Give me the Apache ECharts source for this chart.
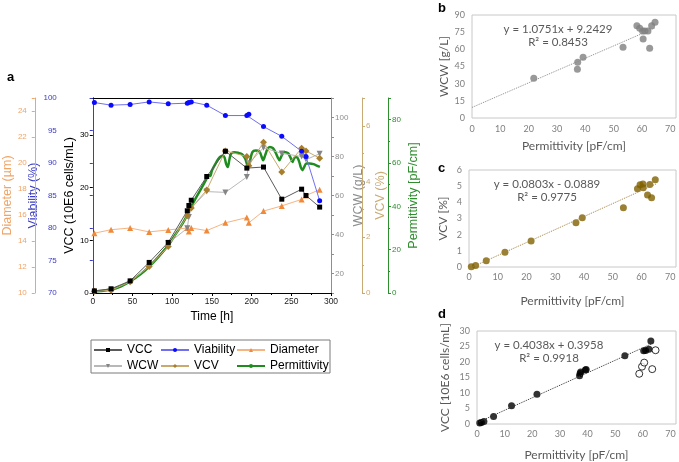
<!DOCTYPE html>
<html>
<head>
<meta charset="utf-8">
<script src="https://cdn.jsdelivr.net/npm/echarts@6/dist/echarts.min.js"></script>
<style>
  html, body { margin: 0; padding: 0; background: #fff; }
  #chart { width: 679px; height: 462px; }
</style>
</head>
<body>
<div id="chart"></div>
<script>
// panel a: sampling times [h]
const timeH = [2, 23, 47, 71, 95, 119, 121, 124, 143.5, 167, 194, 196.5, 215, 238, 263, 268.5, 285.7]
const vcc = [0.4, 0.8, 2.3, 5.8, 9.6, 15.6, 16.6, 17.6, 22.1, 26.9, 23.7, null, 23.9, 17.8, 19.7, 18.5, 16.3]
const viability = [99.3, 98.9, 99.0, 99.4, 99.1, 99.2, 99.3, 99.4, 98.9, 97.3, 97.3, 97.5, 95.6, 94.1, 91.8, 91.0, 84.2]
const diameter = [14.6, 14.87, 15.0, 14.7, 14.85, 15.0, 14.74, 15.0, 14.8, 15.4, 15.8, 15.4, 16.3, 16.7, 17.2, 17.5, 17.95]
const wcw = [null, null, null, null, 35.5, 43.2, 49, 53.5, 62, 61.6, 69.5, 76.5, 84.5, 81.6, 80, 78.4, 81.4]
const vcv = [0.06, 0.1, 0.4, 0.95, 1.67, 2.77, null, 3.05, 3.7, 5.1, 4.9, 4.57, 5.41, 4.34, 5.2, 5.1, 4.84]
// online permittivity trace [h, pF/cm]
const permTrace = [
  [0, 0.5], [10, 0.9], [23, 1.6], [35, 3], [47, 5.3], [60, 8.6], [71, 12.2], [83, 16.8],
  [95, 22], [105, 27.5], [113, 32], [119, 36], [124, 39.8], [130, 44], [137, 48.5], [143, 52.5],
  [146, 54.5], [148, 54], [150, 56.5], [155, 60], [158, 61.8], [161, 63], [164, 63.3], [166, 62.5],
  [168, 59.5], [170, 58.2], [172, 61.5], [174, 64.2], [178, 65], [183, 64.7], [188, 64], [192, 62],
  [194.5, 59], [196, 58.2], [198, 61], [201, 65], [205, 65.8], [210, 65.3], [212.5, 63], [214.5, 61.3],
  [217, 63.5], [220, 66.5], [223, 67.4], [227, 66.8], [230, 65], [233, 62.5], [235, 61.3], [238, 63.5],
  [241, 65.1], [246, 64.5], [249, 62.5], [251.5, 60.5], [254, 62.5], [257, 62.7], [260, 60.5], [262, 58],
  [264, 56.7], [266, 58], [269, 59.8], [273, 59.8], [278, 59.5], [282, 58.8], [286, 58.2]
]

// panel b: WCW vs permittivity
const wcwPoints = [[21.8, 34.8], [37.2, 42.5], [37.3, 48.8], [39.2, 53.1], [53.3, 61.8], [58.2, 80.7],
  [59.2, 78.4], [60.2, 76], [60.4, 69.1], [61, 76], [62.1, 76], [62.7, 61], [63.4, 80.7], [64.6, 83.6]]
const wcwTrend = [[0, 9.24], [64.5, 78.6]]
const wcwFit = ['y = 1.0751x + 9.2429', 'R² = 0.8453']

// panel c: VCV vs permittivity
const vcvPoints = [[0.8, 0.02], [2.3, 0.1], [6, 0.39], [12.5, 0.92], [21.6, 1.61], [37.2, 2.73], [39.4, 3.04],
  [53.7, 3.67], [58.6, 4.84], [59.5, 5.08], [60.5, 5.14], [60.6, 4.9], [62.1, 4.46], [62.9, 5.1],
  [63.5, 4.29], [64.8, 5.4]]
const vcvTrend = [[0, -0.09], [65, 5.13]]
const vcvFit = ['y = 0.0803x - 0.0889', 'R² = 0.9775']

// panel d: VCC vs permittivity (open = not used in fit)
const vccPoints = [[1, 0.3], [1.6, 0.5], [2.5, 0.8], [6, 2.4], [12.5, 5.9], [21.7, 9.6], [37.1, 15.6],
  [37.3, 16.3], [37.5, 16.8], [39.2, 17.4], [39.5, 17.6], [53.5, 22], [60.3, 23.6], [61, 23.7],
  [62.2, 24.1], [62.9, 26.8]]
const vccOpen = [[58.7, 16.2], [59.7, 18.5], [60.5, 19.8], [63.4, 17.7], [64.6, 23.8]]
const vccTrend = [[0, 0.4], [63.5, 26]]
const vccFit = ['y = 0.4038x + 0.3958', 'R² = 0.9918']

const pair = (xs, ys) => xs.map((x, i) => [x, ys[i]])

const chart = echarts.init(document.getElementById('chart'))

const AF = 'Liberation Sans, Arial, sans-serif'
const CF = 'Lato, Carlito, Calibri, sans-serif'
const C = {
  vcc: '#000000', vccLine: '#5a5a5a',
  via: '#0a0aff', viaLine: '#6f6ff0', viaAxis: '#3b3bc4',
  dia: '#f08a3a', diaLine: '#f6b482', diaAxis: '#f0a466',
  wcw: '#858585', wcwLine: '#b8b8b8', wcwAxis: '#8e8e8e',
  vcv: '#a87e2c', vcvLine: '#c9a96e', vcvAxis: '#c8aa74',
  perm: '#1f8c1f', permAxis: '#2d8f2d',
}

// helper for the stacked y axes of panel a
function sideAxis (o) {
  return {
    type: 'value', gridIndex: 0, position: o.pos, offset: o.offset,
    min: o.min, max: o.max, interval: o.interval,
    name: o.name, nameLocation: 'middle', nameRotate: 90, nameGap: o.nameGap,
    nameTextStyle: { color: o.color, fontFamily: AF, fontSize: 12.5 },
    axisLine: { show: true, lineStyle: { color: o.color, width: 1 } },
    axisTick: { show: true, inside: false, length: 3, lineStyle: { color: o.color } },
    minorTick: { show: !!o.minor, splitNumber: o.minor || 2, length: 2, lineStyle: { color: o.color } },
    axisLabel: {
      color: o.color, fontFamily: AF, fontSize: 8, margin: o.margin || 4,
      formatter: (v) => (o.labels.indexOf(v) >= 0 ? String(v) : ''),
    },
    splitLine: { show: false },
  }
}

function scatterGrid (g, o) {
  return {
    x: {
      type: 'value', gridIndex: g, min: 0, max: 72, interval: 10,
      name: 'Permittivity [pF/cm]', nameLocation: 'middle', nameGap: o.xGap,
      nameTextStyle: { color: '#595959', fontFamily: CF, fontSize: 12 },
      axisLine: { show: false }, axisTick: { show: false }, splitLine: { show: false },
      axisLabel: {
        color: '#7f7f7f', fontFamily: CF, fontSize: 9, margin: o.xMargin,
        formatter: (v) => (v <= 70 ? String(v) : ''),
      },
    },
    y: {
      type: 'value', gridIndex: g, min: 0, max: o.yMax, interval: o.yInt,
      name: o.yName, nameLocation: 'middle', nameRotate: 90, nameGap: o.yGap,
      nameTextStyle: { color: '#595959', fontFamily: CF, fontSize: 12 },
      axisLine: { show: false }, axisTick: { show: false }, splitLine: { show: false },
      axisLabel: { color: '#7f7f7f', fontFamily: CF, fontSize: 9, margin: 7 },
    },
  }
}

const gb = scatterGrid(1, { yMax: 90, yInt: 15, yName: 'WCW [g/L]', yGap: 22, xGap: 22, xMargin: 7 })
const gc = scatterGrid(2, { yMax: 6, yInt: 1, yName: 'VCV [%]', yGap: 20, xGap: 28, xMargin: 6 })
const gd = scatterGrid(3, { yMax: 30, yInt: 5, yName: 'VCC [10E6 cells/mL]', yGap: 26, xGap: 25, xMargin: 6 })

function fitTitle (lines, x, y) {
  return {
    text: lines.join('\n'), left: x, top: y, textAlign: 'center',
    textStyle: { color: '#595959', fontFamily: CF, fontSize: 11.5, fontWeight: 'normal', lineHeight: 13 },
  }
}
function panelTitle (t, x, y) {
  return { text: t, left: x, top: y, textStyle: { color: '#000', fontFamily: AF, fontSize: 13, fontWeight: 'bold' } }
}

const legendBase = {
  orient: 'vertical', itemWidth: 28, itemHeight: 5, itemGap: 4,
  textStyle: { color: '#000', fontFamily: AF, fontSize: 12 },
}

chart.setOption({
  animation: false,
  backgroundColor: '#fff',
  title: [
    panelTitle('a', 2, 66),
    panelTitle('b', 433, -3),
    panelTitle('c', 433, 157),
    panelTitle('d', 433, 303),
    fitTitle(wcwFit, 553, 18),
    fitTitle(vcvFit, 542, 173),
    fitTitle(vccFit, 544, 334),
  ],
  legend: [
    Object.assign({}, legendBase, { left: 88, top: 339, data: ['VCC', 'WCW'] }),
    Object.assign({}, legendBase, { left: 155, top: 339, data: ['Viability', 'VCV'] }),
    Object.assign({}, legendBase, { left: 231, top: 339, data: ['Diameter', 'Permittivity'] }),
  ],
  graphic: [{
    type: 'rect', shape: { x: 91, y: 340, width: 239, height: 33 },
    style: { fill: 'none', stroke: '#7a7a7a', lineWidth: 1 }, silent: true,
  }],
  grid: [
    { left: 87, top: 98, width: 244, height: 195 },
    { left: 472, top: 15, width: 206, height: 103, show: true, borderColor: '#c8c8c8', borderWidth: 1 },
    { left: 469, top: 170, width: 210, height: 97, show: true, borderColor: '#c8c8c8', borderWidth: 1 },
    { left: 477, top: 331, width: 203, height: 95, show: true, borderColor: '#c8c8c8', borderWidth: 1 },
  ],
  xAxis: [
    {
      type: 'value', gridIndex: 0, min: 0, max: 300, interval: 50,
      name: 'Time [h]', nameLocation: 'middle', nameGap: 18,
      nameTextStyle: { color: '#000', fontFamily: AF, fontSize: 12 },
      axisLine: { show: true, onZero: false, lineStyle: { color: '#000' } },
      axisTick: { show: true, length: 3, lineStyle: { color: '#000' } },
      minorTick: { show: true, splitNumber: 2, length: 2, lineStyle: { color: '#000' } },
      axisLabel: { color: '#222', fontFamily: AF, fontSize: 8.5, margin: 4 },
      splitLine: { show: false },
    },
    {
      type: 'value', gridIndex: 0, position: 'top', min: 0, max: 300,
      axisLine: { show: true, onZero: false, lineStyle: { color: '#000' } },
      axisTick: { show: false }, axisLabel: { show: false }, splitLine: { show: false },
    },
    gb.x, gc.x, gd.x,
  ],
  yAxis: [
    sideAxis({ pos: 'left', offset: 0, min: 0, max: 37, interval: 10, labels: [0, 10, 20, 30],
      name: 'VCC (10E6 cells/mL)', nameGap: 12, color: '#000', margin: 4 }),
    sideAxis({ pos: 'left', offset: 29, min: 70, max: 100, interval: 5, labels: [70, 75, 80, 85, 90, 95, 100],
      name: 'Viability (%)', nameGap: 14, color: C.viaAxis, margin: 7 }),
    sideAxis({ pos: 'left', offset: 58, min: 10, max: 25, interval: 2, labels: [10, 12, 14, 16, 18, 20, 22, 24],
      name: 'Diameter (µm)', nameGap: 14, color: C.diaAxis, margin: 8 }),
    sideAxis({ pos: 'right', offset: 0, min: 10, max: 110, interval: 10, labels: [20, 40, 60, 80, 100],
      name: 'WCW (g/L)', nameGap: 11, color: C.wcwAxis, minor: 0 }),
    sideAxis({ pos: 'right', offset: 31, min: 0, max: 7, interval: 2, labels: [0, 2, 4, 6],
      name: 'VCV (%)', nameGap: 10, color: C.vcvAxis, minor: 2 }),
    sideAxis({ pos: 'right', offset: 57, min: 0, max: 90, interval: 20, labels: [0, 20, 40, 60, 80],
      name: 'Permittivity [pF/cm]', nameGap: 19, color: C.permAxis, minor: 2 }),
    gb.y, gc.y, gd.y,
  ],
  series: [
    {
      name: 'Permittivity', type: 'line', xAxisIndex: 0, yAxisIndex: 5, data: permTrace,
      smooth: 0.3, showSymbol: false, symbol: 'circle', symbolSize: 2,
      itemStyle: { color: C.perm }, lineStyle: { color: C.perm, width: 2.5 }, z: 2,
    },
    {
      name: 'Diameter', type: 'line', xAxisIndex: 0, yAxisIndex: 2, data: pair(timeH, diameter),
      connectNulls: true, symbol: 'triangle', symbolSize: 6,
      itemStyle: { color: C.dia }, lineStyle: { color: C.diaLine, width: 1 }, z: 3,
    },
    {
      name: 'WCW', type: 'line', xAxisIndex: 0, yAxisIndex: 3, data: pair(timeH, wcw),
      connectNulls: true, symbol: 'triangle', symbolRotate: 180, symbolSize: 6,
      itemStyle: { color: C.wcw }, lineStyle: { color: C.wcwLine, width: 1 }, z: 3,
    },
    {
      name: 'VCV', type: 'line', xAxisIndex: 0, yAxisIndex: 4, data: pair(timeH, vcv),
      connectNulls: true, symbol: 'diamond', symbolSize: 7,
      itemStyle: { color: C.vcv }, lineStyle: { color: C.vcvLine, width: 1 }, z: 4,
    },
    {
      name: 'VCC', type: 'line', xAxisIndex: 0, yAxisIndex: 0, data: pair(timeH, vcc),
      connectNulls: true, symbol: 'rect', symbolSize: 5,
      itemStyle: { color: C.vcc }, lineStyle: { color: C.vccLine, width: 1 }, z: 4,
    },
    {
      name: 'Viability', type: 'line', xAxisIndex: 0, yAxisIndex: 1, data: pair(timeH, viability),
      connectNulls: true, symbol: 'circle', symbolSize: 5,
      itemStyle: { color: C.via }, lineStyle: { color: C.viaLine, width: 1 }, z: 5,
    },
    // b
    {
      type: 'line', xAxisIndex: 2, yAxisIndex: 6, data: wcwTrend, symbol: 'none',
      lineStyle: { color: '#8c8c8c', width: 1, type: 'dotted' }, silent: true,
    },
    {
      type: 'scatter', xAxisIndex: 2, yAxisIndex: 6, data: wcwPoints, symbolSize: 7,
      itemStyle: { color: '#7f7f7f' },
    },
    // c
    {
      type: 'line', xAxisIndex: 3, yAxisIndex: 7, data: vcvTrend, symbol: 'none',
      lineStyle: { color: '#a08040', width: 1, type: 'dotted' }, silent: true,
    },
    {
      type: 'scatter', xAxisIndex: 3, yAxisIndex: 7, data: vcvPoints, symbolSize: 7,
      itemStyle: { color: '#7f6000' },
    },
    // d
    {
      type: 'line', xAxisIndex: 4, yAxisIndex: 8, data: vccTrend, symbol: 'none',
      lineStyle: { color: '#333', width: 1, type: 'dotted' }, silent: true,
    },
    {
      type: 'scatter', xAxisIndex: 4, yAxisIndex: 8, data: vccPoints, symbolSize: 7,
      itemStyle: { color: '#000' },
    },
    {
      type: 'scatter', xAxisIndex: 4, yAxisIndex: 8, data: vccOpen, symbolSize: 7,
      itemStyle: { color: '#fff', borderColor: '#000', borderWidth: 1 },
    },
  ],
})
</script>
</body>
</html>
